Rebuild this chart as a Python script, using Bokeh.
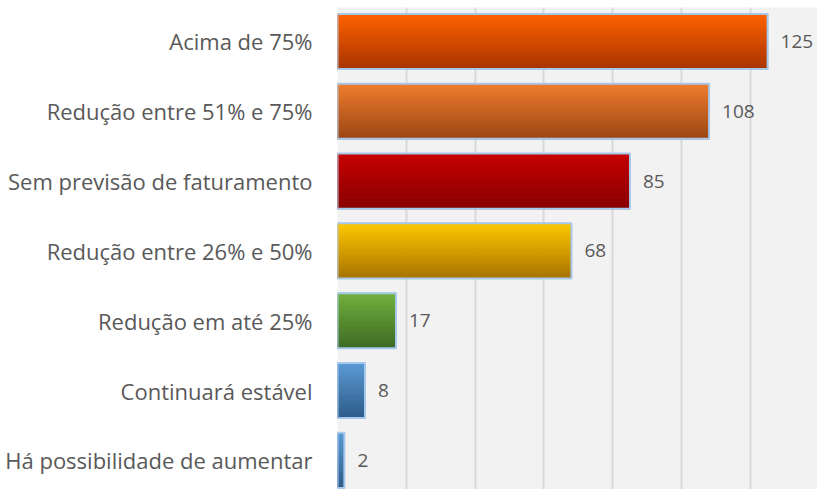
from bokeh.plotting import figure
from bokeh.models import Range1d, FixedTicker, ColumnDataSource
from bokeh.core.properties import value
from bokeh.embed import file_html
from bokeh.resources import INLINE

categories = [
    "Acima de 75%",
    "Redução entre 51% e 75%",
    "Sem previsão de faturamento",
    "Redução entre 26% e 50%",
    "Redução em até 25%",
    "Continuará estável",
    "Há possibilidade de aumentar",
]
counts = [125, 108, 85, 68, 17, 8, 2]
top_colors = ["#FF6200", "#F07D2E", "#C80000", "#FFC800", "#72B23E", "#5B9BD5", "#5B9BD5"]
bottom_colors = ["#A83500", "#9C4714", "#880000", "#A87400", "#3E6A24", "#2E5C8A", "#2E5C8A"]
x_ticks = [0, 20, 40, 60, 80, 100, 120, 140]

FONT = "Open Sans"
BAR_H = 0.79
N_SLICES = 24


def hex2rgb(h):
    h = h.lstrip("#")
    return tuple(int(h[i:i + 2], 16) for i in (0, 2, 4))


def mix(c1, c2, t):
    a, b = hex2rgb(c1), hex2rgb(c2)
    return "#%02x%02x%02x" % tuple(round(a[k] + (b[k] - a[k]) * t) for k in range(3))


p = figure(
    width=817, height=489,
    x_range=Range1d(0, 139.5),
    y_range=Range1d(6.418, -0.487),
    output_backend="svg", toolbar_location=None,
    min_border_left=337, min_border_right=0, min_border_top=7, min_border_bottom=0,
    background_fill_color="#F2F2F2", border_fill_color="white",
    outline_line_color=None,
)

# gradient bars built from thin slices
ys, rights, cols = [], [], []
slice_h = BAR_H / N_SLICES
for i, v in enumerate(counts):
    for s in range(N_SLICES):
        t = (s + 0.5) / N_SLICES
        ys.append(i - BAR_H / 2 + (s + 0.5) * slice_h)
        rights.append(v)
        cols.append(mix(top_colors[i], bottom_colors[i], t))
src = ColumnDataSource(dict(y=ys, right=rights, color=cols))
p.hbar(y="y", left=0, right="right", height=slice_h, fill_color="color",
       line_color="color", line_width=1, source=src)

idx = list(range(len(categories)))
p.hbar(y=idx, left=0, right=counts, height=BAR_H, fill_alpha=0,
       line_color="#A6C8EA", line_width=2)

p.text(x=counts, y=idx, text=[str(c) for c in counts], x_offset=13,
       text_font=value(FONT), text_font_size="19px", text_color="#595959",
       text_baseline="middle", text_align="left")

p.xaxis.visible = False
p.xaxis.ticker = FixedTicker(ticks=x_ticks)
p.xgrid.ticker = FixedTicker(ticks=x_ticks)
p.xgrid.grid_line_color = "#D9D9D9"
p.xgrid.grid_line_width = 2
p.ygrid.grid_line_color = None

p.yaxis.ticker = FixedTicker(ticks=idx)
p.yaxis.major_label_overrides = {i: c for i, c in enumerate(categories)}
p.yaxis.axis_line_color = None
p.yaxis.major_tick_line_color = None
p.yaxis.minor_tick_line_color = None
p.yaxis.major_tick_in = 0
p.yaxis.major_tick_out = 0
p.yaxis.major_label_standoff = 25
p.yaxis.major_label_text_font = FONT
p.yaxis.major_label_text_font_size = "22px"
p.yaxis.major_label_text_color = "#595959"

open("out.html", "w").write(file_html(p, INLINE))
